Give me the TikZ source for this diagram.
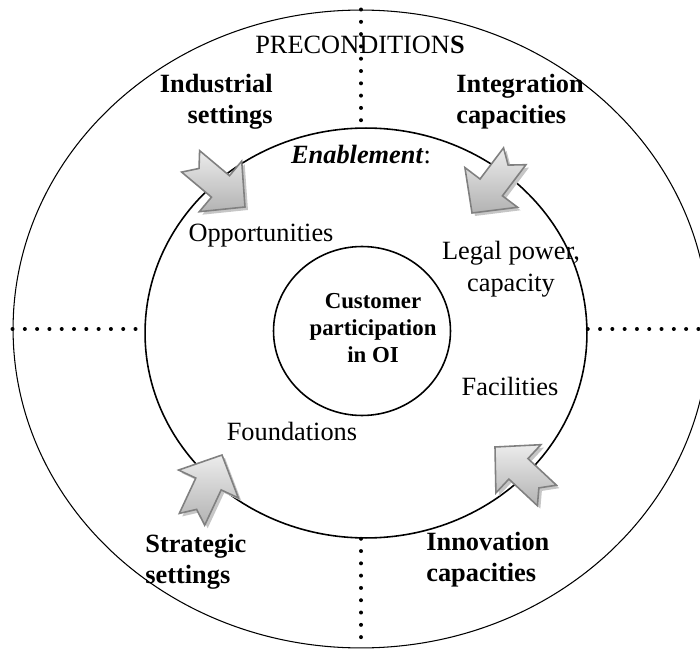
\documentclass[tikz,border=0pt]{standalone}
\usepackage{fontspec}
\setmainfont{Liberation Serif}
\usetikzlibrary{shapes.geometric}

\tikzset{
  pics/pusharrow/.style={code={
    % flat shadow first, then the shaded arrow on top
    \fill[gray!45, transform canvas={xshift=1.7pt, yshift=-1.7pt}]
      (-71,14) -- (-32,14) -- (-32,33) -- (0,0) -- (-32,-33)
      -- (-32,-14) -- (-71,-14) -- (-60,0) -- cycle;
    \draw[arrowbody]
      (-71,14) -- (-32,14) -- (-32,33) -- (0,0) -- (-32,-33)
      -- (-32,-14) -- (-71,-14) -- (-60,0) -- cycle;
  }}
}

\begin{document}
\begin{tikzpicture}[x=0.02cm, y=-0.02cm]
  \tikzstyle{ring} = [ellipse, draw, inner sep=0pt]
  \tikzstyle{dotline} = [line width=0.08cm, line cap=round, dash pattern=on 0pt off 0.246cm]
  \tikzstyle{arrowbody} = [draw=gray, line width=0.9pt, line join=miter,
                           top color=gray!15, bottom color=gray!60]
  \tikzstyle{plain} = [inner sep=0pt, align=center, font=\fontsize{15}{18}\selectfont]
  \tikzstyle{setting} = [inner sep=0pt, align=left, font=\fontsize{15}{17.8}\selectfont\bfseries]

\useasboundingbox (0,0) rectangle (700,655);
\clip (0,0) rectangle (700,655);

% the three rings
\node[ring, line width=0.6pt, minimum width=13.92cm, minimum height=12.76cm] (precond) at (361,329) {};
\node[ring, line width=0.9pt, minimum width=8.84cm, minimum height=8.2cm] (enable) at (366,333) {};
\node[ring, line width=0.9pt, minimum width=3.54cm, minimum height=3.38cm] (core) at (362,331) {};

% quadrant separators
\draw[dotline] (precond.north) -- (precond.north |- enable.north);
\draw[dotline] (precond.south |- enable.south) -- (precond.south);
\draw[dotline] (precond.west) -- (enable.west |- precond.west);
\draw[dotline] (enable.east |- precond.east) -- (precond.east);

% texts
\node[plain] (pre) at (360,45) {PRECONDITION\textbf{S}};
\node[setting, align=right, anchor=east] (ind) at (273,102) {Industrial\\settings};
\node[setting, anchor=west] (intg) at (456,102) {Integration\\capacities};
\node[setting, anchor=west] (strat) at (145,562) {Strategic\\settings};
\node[setting, anchor=west] (innov) at (426,560) {Innovation\\capacities};
\node[plain] (enab) at (361,155) {\textbf{\textit{Enablement}}:};
\node[plain] (opp) at (261,236) {Opportunities};
\node[plain, font=\fontsize{15}{18.5}\selectfont] (legal) at (511,269) {Legal power,\\capacity};
\node[plain] (fac) at (510,386) {Facilities};
\node[plain] (found) at (292,431) {Foundations};
\node[plain, font=\fontsize{13}{15.2}\selectfont\bfseries] (cust) at (373,328) {Customer\\participation\\in OI};

% block arrows, placed by their tips
\pic[rotate=-40] at (245,207) {pusharrow};
\pic[rotate=-127] at (472,213) {pusharrow};
\pic[rotate=65] at (222,455) {pusharrow};
\pic[rotate=137] at (495,447) {pusharrow};
\end{tikzpicture}
\end{document}
